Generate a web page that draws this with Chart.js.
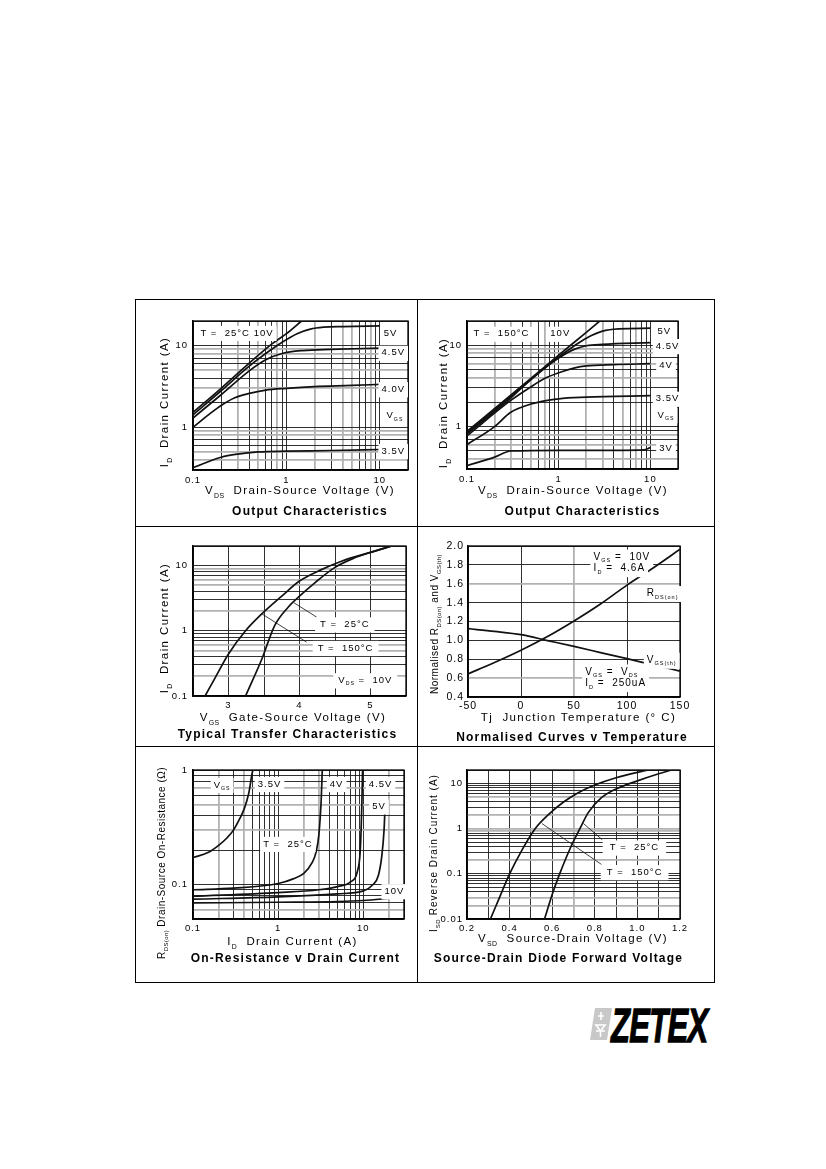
<!DOCTYPE html>
<html>
<head>
<meta charset="utf-8">
<script src="https://cdn.jsdelivr.net/npm/chart.js@4.4.1/dist/chart.umd.min.js"></script>
<style>
  html, body { margin: 0; padding: 0; background: #fff; }
  body { width: 826px; height: 1169px; position: relative; overflow: hidden;
         font-family: "Liberation Sans", Arial, Helvetica, sans-serif; color: #000; }
  canvas { position: absolute; }
  .box { position: absolute; border: 1.3px solid #000; box-sizing: border-box; }
  .rule { position: absolute; background: #000; }
  .txt { position: absolute; white-space: pre; line-height: 1; transform: translate(-50%, -50%); }
  .rot { transform: translate(-50%, -50%) rotate(-90deg); }
  .sub { font-size: 0.6em; position: relative; top: 0.55em; letter-spacing: 0.4px; }
  .ax  { font-size: 11.5px; letter-spacing: 1.4px; }
  .axl { font-size: 11.5px; letter-spacing: 1.4px; }
  .axs { font-size: 10px; letter-spacing: 0.5px; }
  .axm { font-size: 10px; letter-spacing: 1px; }
  .ttl { font-weight: bold; font-size: 12px; letter-spacing: 1.2px; }
  .zetex { position: absolute; left: 611px; top: 1002px; font: italic bold 48px "Liberation Sans", Arial, sans-serif;
           line-height: 48px; letter-spacing: -1px; transform-origin: left top; transform: scaleX(0.645);
           -webkit-text-stroke: 1.3px #000; }
  .icon { position: absolute; left: 589px; top: 1007px; }
</style>
</head>
<body>

<div class="box" style="left:135px;top:299px;width:580px;height:684px"></div>
<div class="rule" style="left:416.5px;top:299px;width:1.3px;height:684px"></div>
<div class="rule" style="left:135px;top:525.5px;width:580px;height:1.3px"></div>
<div class="rule" style="left:135px;top:745.5px;width:580px;height:1.3px"></div>

<canvas id="c1" width="267" height="179" style="left:153px;top:313px;width:267px;height:179px"></canvas>
<canvas id="c2" width="263" height="178" style="left:427px;top:313px;width:263px;height:178px"></canvas>
<canvas id="c3" width="265" height="180" style="left:153px;top:538px;width:265px;height:180px"></canvas>
<canvas id="c4" width="264" height="181" style="left:428px;top:538px;width:264px;height:181px"></canvas>
<canvas id="c5" width="263" height="179" style="left:153px;top:762px;width:263px;height:179px"></canvas>
<canvas id="c6" width="265" height="179" style="left:427px;top:762px;width:265px;height:179px"></canvas>

<svg class="icon" width="24" height="34" viewBox="0 0 24 34">
  <polygon points="6,1 23,1 18,33 1,33" fill="#c8c8c8"/>
  <path d="M9 9 l6 0 M12 5 l0 8 M7 18 l9 0 l-4.5 6 z M11.5 24 l0 6 M7 24 l9 0" stroke="#fff" stroke-width="1.6" fill="none"/>
</svg>
<div class="zetex">ZETEX</div>

<script>
Chart.defaults.font.family = '"Liberation Sans", Arial, Helvetica, sans-serif';
Chart.defaults.color = '#000';

// ---------- data ----------
// Output characteristics, T = 25 C  (VDS in V, ID in A)
const oc25Vds10 = [0.1, 0.2, 0.4, 0.7, 1, 1.45];
const oc25Id10  = [1.52, 3.0, 6.1, 10.5, 14, 20];
const oc25Vds5  = [0.1, 0.2, 0.4, 0.6, 0.9, 1.3, 1.8, 2.5, 4, 10];
const oc25Id5   = [1.42, 2.8, 5.6, 8.0, 11, 14, 15.9, 16.8, 17.1, 17.4];
const oc25Vds45 = [0.1, 0.2, 0.4, 0.6, 0.9, 1.5, 3, 10];
const oc25Id45  = [1.3, 2.5, 4.9, 6.7, 8.0, 8.7, 9.0, 9.3];
const oc25Vds4  = [0.1, 0.15, 0.2, 0.28, 0.4, 0.6, 1, 2, 5, 10];
const oc25Id4   = [1.0, 1.45, 1.85, 2.3, 2.6, 2.85, 3.0, 3.15, 3.25, 3.35];
const oc25Vds35 = [0.1, 0.2, 0.3, 0.5, 1, 3, 10];
const oc25Id35  = [0.32, 0.43, 0.47, 0.5, 0.51, 0.52, 0.535];

// Output characteristics, T = 150 C
const oc150Vds10 = [0.1, 0.3, 1, 2, 2.8];
const oc150Id10  = [0.87, 2.44, 7.6, 14.5, 20];
const oc150Vds5  = [0.1, 0.3, 1, 1.5, 2, 3, 4.5, 10];
const oc150Id5   = [0.84, 2.35, 7.2, 10, 12.3, 15, 16, 16.3];
const oc150Vds45 = [0.1, 0.3, 0.6, 1, 1.5, 2, 3, 10];
const oc150Id45  = [0.81, 2.25, 4.6, 7.0, 9.0, 9.9, 10.3, 10.8];
const oc150Vds4  = [0.1, 0.3, 0.5, 0.7, 1, 1.5, 2, 4, 10];
const oc150Id4   = [0.77, 2.1, 3.1, 3.9, 4.6, 5.3, 5.6, 5.8, 5.95];
const oc150Vds35 = [0.1, 0.2, 0.3, 0.5, 1, 2, 10];
const oc150Id35  = [0.6, 1.0, 1.5, 1.9, 2.2, 2.3, 2.4];
const oc150Vds3  = [0.1, 0.2, 0.3, 1, 5, 8.5, 10];
const oc150Id3   = [0.33, 0.42, 0.5, 0.51, 0.51, 0.515, 0.55];

// Typical transfer characteristics, VDS = 10 V  (VGS in V, ID in A)
const tfVgs150 = [2.67, 2.8, 3.0, 3.24, 3.47, 3.75, 4.0, 4.3, 4.6, 5.0, 5.3];
const tfId150  = [0.1, 0.18, 0.44, 1.0, 1.82, 3.4, 5.8, 8.6, 11.8, 16.0, 20];
const tfVgs25  = [3.24, 3.47, 3.65, 3.84, 4.0, 4.22, 4.5, 4.75, 5.0, 5.3];
const tfId25   = [0.1, 0.37, 1.2, 2.3, 3.4, 5.5, 9.4, 12.8, 16.0, 20];

// Normalised curves v temperature  (Tj in C)
const ncTemp = [-50, -25, 0, 25, 50, 75, 100, 125, 150];
const ncRds  = [0.645, 0.765, 0.895, 1.04, 1.205, 1.385, 1.585, 1.77, 1.965];
const ncVgs  = [1.124, 1.095, 1.06, 0.998, 0.936, 0.871, 0.806, 0.74, 0.675];

// On-resistance v drain current, T = 25 C  (ID in A, RDS(on) in ohm)
const orId35  = [0.1, 0.15, 0.2, 0.25, 0.3, 0.35, 0.4, 0.45, 0.5, 0.52];
const orR35   = [0.172, 0.19, 0.22, 0.255, 0.3, 0.37, 0.46, 0.62, 0.97, 1.05];
const orId4   = [0.1, 0.3, 1, 1.5, 2, 2.5, 2.8, 3.0, 3.2, 3.3];
const orR4    = [0.09, 0.093, 0.102, 0.112, 0.125, 0.155, 0.195, 0.27, 0.55, 1.05];
const orId45  = [0.1, 1, 3, 5, 7, 8.5, 9.2, 9.6, 9.8];
const orR45   = [0.079, 0.085, 0.09, 0.096, 0.105, 0.13, 0.2, 0.5, 1.05];
const orId5   = [0.1, 1, 5, 10, 13, 15, 16.5, 17.5, 17.9];
const orR5    = [0.0745, 0.078, 0.083, 0.088, 0.1, 0.12, 0.18, 0.3, 0.44];
const orId10  = [0.1, 1, 5, 10, 21];
const orR10   = [0.069, 0.07, 0.071, 0.0725, 0.076];

// Source-drain diode forward voltage  (VSD in V, ISD in A)
const sdVsd150 = [0.31, 0.35, 0.4, 0.46, 0.52, 0.58, 0.65, 0.72, 0.8, 0.9, 1.05];
const sdIsd150 = [0.01, 0.028, 0.1, 0.35, 1.0, 2.0, 3.8, 6.2, 9.3, 13.5, 20];
const sdVsd25  = [0.564, 0.6, 0.635, 0.69, 0.73, 0.77, 0.83, 0.9, 1.0, 1.1, 1.16];
const sdIsd25  = [0.01, 0.035, 0.1, 0.42, 1.0, 2.3, 4.8, 7.6, 11.5, 16.5, 20];

// tick labels
const ocXLabels = ['0.1', '1', '10'];
const ocYLabels = ['1', '10'];
const tfXLabels = ['3', '4', '5'];
const tfYLabels = ['0.1', '1', '10'];
const ncXLabels = ['-50', '0', '50', '100', '150'];
const ncYLabels = ['0.4', '0.6', '0.8', '1.0', '1.2', '1.4', '1.6', '1.8', '2.0'];
const orXLabels = ['0.1', '1', '10'];
const orYLabels = ['0.1', '1'];
const sdXLabels = ['0.2', '0.4', '0.6', '0.8', '1.0', '1.2'];
const sdYLabels = ['0.01', '0.1', '1', '10'];

// ---------- helpers ----------
function logGrid(lo, hi) {
  const out = [];
  for (let e = Math.floor(Math.log10(lo)); e <= Math.ceil(Math.log10(hi)); e++) {
    for (let k = 1; k < 10; k++) {
      const v = Number((k * Math.pow(10, e)).toPrecision(6));
      if (v >= lo * 0.9999 && v <= hi * 1.0001) out.push(v);
    }
  }
  return out;
}
const near = (a, b) => Math.abs(a - b) <= 1e-6 * Math.max(1, Math.abs(b));

function axis(o) {
  const isX = o.isX;
  return {
    type: o.type, min: o.min, max: o.max,
    afterBuildTicks: s => { s.ticks = o.grid.map(v => ({ value: v })); },
    afterFit: s => {
      if (isX) s.height = 20; else s.width = 36;
      s.paddingLeft = s.paddingRight = s.paddingTop = s.paddingBottom = 0;
    },
    ticks: {
      autoSkip: false, maxRotation: 0, minRotation: 0,
      padding: o.pad, font: { size: o.size || 9.5 },
      callback: v => {
        const l = o.labels.find(t => near(v, parseFloat(t)));
        return l === undefined ? '' : l;
      }
    },
    grid: {
      drawTicks: false,
      color: c => {
        const v = c.tick.value;
        if ((o.gray || []).some(g => near(v, g))) return '#b2b2b2';
        return '#1a1a1a';
      },
      lineWidth: c => ((o.gray || []).some(g => near(c.tick.value, g)) ? 1.8 : 0.9)
    },
    border: { color: '#000', width: 1.3 }
  };
}

function curve(xs, ys, w) {
  return {
    data: xs.map((x, i) => ({ x: x, y: ys[i] })),
    borderColor: '#111', borderWidth: w || 1.7, pointRadius: 0,
    cubicInterpolationMode: w ? 'default' : 'monotone', tension: 0, fill: false
  };
}

function parseRich(s) {
  return s.split(/(_\{[^}]*\})/).filter(p => p.length).map(p =>
    p.startsWith('_{') ? { t: p.slice(2, -1), sub: true } : { t: p, sub: false });
}
function richHTML(s) {
  return parseRich(s).map(p => p.sub ? '<span class="sub">' + p.t + '</span>' : p.t).join('');
}

function sheet(notes, size) {
  const fam = '"Liberation Sans", Arial, Helvetica, sans-serif';
  const subSize = size * 0.55, subDrop = size * 0.36;
  return {
    id: 'sheet',
    beforeDraw(chart) { chart.ctx.letterSpacing = '1px'; },
    beforeDatasetsDraw(chart) {
      const { ctx, chartArea: a } = chart;
      ctx.save();
      ctx.strokeStyle = '#000';
      ctx.lineWidth = 1.3;
      ctx.strokeRect(a.left, a.top, a.right - a.left, a.bottom - a.top);
      ctx.restore();
    },
    afterDatasetsDraw(chart) {
      const { ctx } = chart;
      const sx = chart.scales.x, sy = chart.scales.y;
      ctx.save();
      ctx.letterSpacing = '1px';
      ctx.textBaseline = 'middle';
      // lay out every note, then paint all white boxes before any text
      const laid = notes.map(n => {
        const px = sx.getPixelForValue(n.x), py = sy.getPixelForValue(n.y);
        const parts = parseRich(n.t);
        let w = 0;
        parts.forEach(p => {
          ctx.font = (p.sub ? subSize : size) + 'px ' + fam;
          p.w = ctx.measureText(p.t).width;
          w += p.w;
        });
        const x0 = n.align === 'center' ? px - w / 2 : px;
        return { parts, x0, py, w, pad: n.pad == null ? 3 : n.pad };
      });
      ctx.fillStyle = '#fff';
      laid.forEach(l => ctx.fillRect(l.x0 - l.pad, l.py - size * 0.75, l.w + 2 * l.pad, size * 1.6));
      ctx.fillStyle = '#000';
      laid.forEach(l => {
        let x = l.x0;
        l.parts.forEach(p => {
          ctx.font = (p.sub ? subSize : size) + 'px ' + fam;
          ctx.fillText(p.t, x, p.sub ? l.py + subDrop : l.py);
          x += p.w;
        });
      });
      ctx.restore();
    }
  };
}

function makeChart(id, xAxis, yAxis, sets, notes, noteSize) {
  return new Chart(document.getElementById(id), {
    type: 'line',
    data: { datasets: sets },
    options: {
      responsive: false, animation: false, events: [],
      layout: { padding: { left: 4, top: 8, right: 12, bottom: 2 } },
      plugins: { legend: { display: false }, tooltip: { enabled: false } },
      scales: { x: xAxis, y: yAxis }
    },
    plugins: [sheet(notes, noteSize)]
  });
}

// ---------- charts ----------
makeChart('c1',
  axis({ isX: true, type: 'logarithmic', min: 0.1, max: 20, grid: logGrid(0.1, 20), labels: ocXLabels, pad: 5, gray: [0.3, 0.5, 0.8, 2, 4, 5, 8] }),
  axis({ type: 'logarithmic', min: 0.3, max: 20, grid: logGrid(0.3, 20), labels: ocYLabels, pad: 5, gray: [0.4, 0.5, 0.8, 0.9, 3, 5, 8, 9] }),
  [curve(oc25Vds10, oc25Id10), curve(oc25Vds5, oc25Id5), curve(oc25Vds45, oc25Id45),
   curve(oc25Vds4, oc25Id4), curve(oc25Vds35, oc25Id35)],
  [{ x: 0.12, y: 14.3, t: 'T =  25°C' }, { x: 0.57, y: 14.3, t: '10V', align: 'center' },
   { x: 13, y: 14.3, t: '5V', align: 'center' }, { x: 13.9, y: 8.15, t: '4.5V', align: 'center' },
   { x: 13.9, y: 2.92, t: '4.0V', align: 'center' }, { x: 14.5, y: 1.38, t: 'V_{GS}', align: 'center' },
   { x: 13.9, y: 0.51, t: '3.5V', align: 'center' }], 9.5);

makeChart('c2',
  axis({ isX: true, type: 'logarithmic', min: 0.1, max: 20, grid: logGrid(0.1, 20), labels: ocXLabels, pad: 5, gray: [0.2, 0.3, 0.5, 0.7, 2, 3, 5, 7] }),
  axis({ type: 'logarithmic', min: 0.3, max: 20, grid: logGrid(0.3, 20), labels: ocYLabels, pad: 5, gray: [0.4, 0.6, 0.8, 4, 6, 8, 9] }),
  [curve(oc150Vds10, oc150Id10), curve(oc150Vds5, oc150Id5), curve(oc150Vds45, oc150Id45),
   curve(oc150Vds4, oc150Id4), curve(oc150Vds35, oc150Id35), curve(oc150Vds3, oc150Id3)],
  [{ x: 0.118, y: 13.9, t: 'T =  150°C' }, { x: 1.04, y: 13.9, t: '10V', align: 'center' },
   { x: 14.2, y: 15, t: '5V', align: 'center' }, { x: 15.4, y: 9.8, t: '4.5V', align: 'center' },
   { x: 14.8, y: 5.6, t: '4V', align: 'center' }, { x: 15.4, y: 2.2, t: '3.5V', align: 'center' },
   { x: 14.8, y: 1.38, t: 'V_{GS}', align: 'center' }, { x: 14.8, y: 0.544, t: '3V', align: 'center' }], 9.5);

makeChart('c3',
  axis({ isX: true, type: 'linear', min: 2.5, max: 5.5, grid: [2.5, 3, 3.5, 4, 4.5, 5, 5.5], labels: tfXLabels, pad: 4 }),
  axis({ type: 'logarithmic', min: 0.1, max: 20, grid: logGrid(0.1, 20), labels: tfYLabels, pad: 5, gray: [0.2, 0.5, 0.6, 2, 5, 6, 9] }),
  [curve(tfVgs150, tfId150), curve(tfVgs25, tfId25),
   curve([3.92, 4.242], [2.7, 1.62], 0.8), curve([3.466, 4.10], [1.83, 0.67], 0.8)],
  [{ x: 4.29, y: 1.25, t: 'T =  25°C', pad: 5 }, { x: 4.256, y: 0.545, t: 'T =  150°C', pad: 5 },
   { x: 4.547, y: 0.174, t: 'V_{DS} =  10V', pad: 5 }], 9.5);

makeChart('c4',
  axis({ isX: true, type: 'linear', min: -50, max: 150, grid: [-50, 0, 50, 100, 150], labels: ncXLabels, pad: 3, size: 10.5, gray: [50] }),
  axis({ type: 'linear', min: 0.4, max: 2.0, grid: [0.4, 0.6, 0.8, 1.0, 1.2, 1.4, 1.6, 1.8, 2.0], labels: ncYLabels, pad: 4, size: 10.5, gray: [0.6, 1.6] }),
  [curve(ncTemp, ncRds), curve(ncTemp, ncVgs)],
  [{ x: 68.5, y: 1.883, t: 'V_{GS} =  10V' }, { x: 68.5, y: 1.76, t: 'I_{D} =  4.6A' },
   { x: 118.7, y: 1.496, t: 'R_{DS(on)}' }, { x: 118.7, y: 0.789, t: 'V_{GS(th)}' },
   { x: 60.6, y: 0.665, t: 'V_{GS} =  V_{DS}' }, { x: 60.6, y: 0.542, t: 'I_{D} =  250uA' }], 10);

makeChart('c5',
  axis({ isX: true, type: 'logarithmic', min: 0.1, max: 30, grid: logGrid(0.1, 30), labels: orXLabels, pad: 4, gray: [0.2, 0.4, 2, 3, 20] }),
  axis({ type: 'logarithmic', min: 0.05, max: 1, grid: logGrid(0.05, 1), labels: orYLabels, pad: 5, gray: [0.06, 0.3, 0.5, 0.7] }),
  [curve(orId35, orR35), curve(orId4, orR4), curve(orId45, orR45), curve(orId5, orR5), curve(orId10, orR10)],
  [{ x: 0.175, y: 0.74, t: 'V_{GS}' }, { x: 0.576, y: 0.755, t: '3.5V' },
   { x: 4.04, y: 0.755, t: '4V' }, { x: 11.6, y: 0.755, t: '4.5V' },
   { x: 12.7, y: 0.48, t: '5V' }, { x: 17.7, y: 0.0874, t: '10V' },
   { x: 0.666, y: 0.226, t: 'T =  25°C' }], 9.5);

makeChart('c6',
  axis({ isX: true, type: 'linear', min: 0.2, max: 1.2, grid: [0.2, 0.3, 0.4, 0.5, 0.6, 0.7, 0.8, 0.9, 1.0, 1.1, 1.2], labels: sdXLabels, pad: 4, gray: [0.7] }),
  axis({ type: 'logarithmic', min: 0.01, max: 20, grid: logGrid(0.01, 20), labels: sdYLabels, pad: 4, gray: [0.02, 0.03, 0.2, 0.9, 1, 2, 5] }),
  [curve(sdVsd150, sdIsd150), curve(sdVsd25, sdIsd25),
   curve([0.747, 0.835], [1.3, 0.57], 0.8), curve([0.552, 0.831], [1.3, 0.162], 0.8)],
  [{ x: 0.87, y: 0.382, t: 'T =  25°C', pad: 7 }, { x: 0.856, y: 0.109, t: 'T =  150°C', pad: 6 }], 9.5);

// ---------- axis titles and captions ----------
const texts = [
  [165, 402, 'I_{D}  Drain Current (A)', 'ax', true],
  [300, 491, 'V_{DS}  Drain-Source Voltage (V)', 'ax'],
  [310, 511, 'Output Characteristics', 'ttl'],
  [443.7, 403, 'I_{D}  Drain Current (A)', 'ax', true],
  [573, 491, 'V_{DS}  Drain-Source Voltage (V)', 'ax'],
  [582.5, 511, 'Output Characteristics', 'ttl'],
  [165, 628, 'I_{D}  Drain Current (A)', 'ax', true],
  [293, 718, 'V_{GS}  Gate-Source Voltage (V)', 'ax'],
  [287.5, 734.3, 'Typical Transfer Characteristics', 'ttl'],
  [435.3, 624, 'Normalised R_{DS(on)} and V_{GS(th)}', 'axs', true],
  [578.5, 718, 'Tj  Junction Temperature (° C)', 'axl'],
  [572, 736.7, 'Normalised Curves v Temperature', 'ttl'],
  [161.7, 863, 'R_{DS(on)} Drain-Source On-Resistance (Ω)', 'axs', true],
  [292.5, 942, 'I_{D}  Drain Current (A)', 'axl'],
  [295.5, 958.3, 'On-Resistance v Drain Current', 'ttl'],
  [433.7, 853, 'I_{SD} Reverse Drain Current (A)', 'axm', true],
  [573, 939, 'V_{SD}  Source-Drain Voltage (V)', 'axl'],
  [558.5, 958.3, 'Source-Drain Diode Forward Voltage', 'ttl']
];
texts.forEach(([x, y, s, cls, rot]) => {
  const d = document.createElement('div');
  d.className = 'txt ' + cls + (rot ? ' rot' : '');
  d.style.left = x + 'px';
  d.style.top = y + 'px';
  d.innerHTML = richHTML(s);
  document.body.appendChild(d);
});
</script>
</body>
</html>
